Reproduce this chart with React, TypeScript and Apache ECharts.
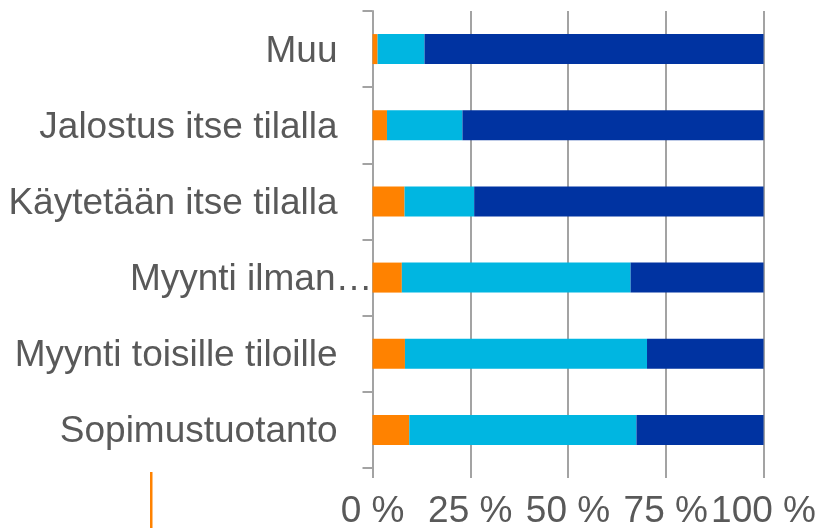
import React, { useEffect, useRef } from "react";
import * as echarts from "echarts";

const categories = [
  "Sopimustuotanto",
  "Myynti toisille tiloille",
  "Myynti ilman…",
  "Käytetään itse tilalla",
  "Jalostus itse tilalla",
  "Muu",
];
const orangeValues = [9.4, 8.3, 7.5, 8.2, 3.7, 1.3];
const lightBlueValues = [58.1, 61.9, 58.5, 17.8, 19.3, 12.0];
const darkBlueValues = [32.5, 29.8, 34.0, 74.0, 77.0, 86.7];
const xTicks = [0, 25, 50, 75, 100];

const FONT = "'Liberation Sans', Arial, sans-serif";
const TEXT = "#595959";
const AXIS = "#A3A3A3";

export default function App() {
  const ref = useRef<HTMLDivElement>(null);
  useEffect(() => {
    if (!ref.current) return;
    const chart = echarts.init(ref.current, undefined, { renderer: "svg" });
    const labelBase = { fontFamily: FONT, fontSize: 37, color: TEXT };
    chart.setOption({
      animation: false,
      grid: { left: 372.5, right: 55, top: 11, bottom: 60, containLabel: false },
      xAxis: {
        type: "value",
        min: xTicks[0],
        max: xTicks[xTicks.length - 1],
        interval: 25,
        axisLine: { show: false },
        axisTick: { show: true, length: 10, lineStyle: { color: AXIS, width: 2 } },
        splitLine: { show: true, lineStyle: { color: AXIS, width: 2 } },
        axisLabel: {
          ...labelBase,
          lineHeight: 30,
          margin: 26,
          formatter: (v: number) => `${v} %`,
        },
      },
      yAxis: {
        type: "category",
        data: categories,
        axisLine: { show: true, lineStyle: { color: AXIS, width: 2 } },
        axisTick: { show: true, length: 10, alignWithLabel: false, lineStyle: { color: AXIS, width: 2 } },
        axisLabel: {
          ...labelBase,
          margin: 0,
          formatter: (v: string) => (v === "Myynti ilman…" ? `{t|${v}}` : `{n|${v}}`),
          rich: {
            n: { ...labelBase, padding: [0, 35, 0, 0] },
            t: { ...labelBase, padding: [0, 0, 0, 0] },
          },
        },
      },
      series: [
        { name: "A", type: "bar", stack: "s", barWidth: 30, data: orangeValues, itemStyle: { color: "#FF8200" } },
        { name: "B", type: "bar", stack: "s", barWidth: 30, data: lightBlueValues, itemStyle: { color: "#00B6E1" } },
        { name: "C", type: "bar", stack: "s", barWidth: 30, data: darkBlueValues, itemStyle: { color: "#0033A1" } },
      ],
      graphic: [
        { type: "rect", left: 150, top: 472, shape: { width: 2.5, height: 56 }, style: { fill: "#FF8200" } },
      ],
    });
    return () => chart.dispose();
  }, []);
  return <div ref={ref} style={{ position: "fixed", left: 0, top: 0, width: 819, height: 528 }} />;
}
